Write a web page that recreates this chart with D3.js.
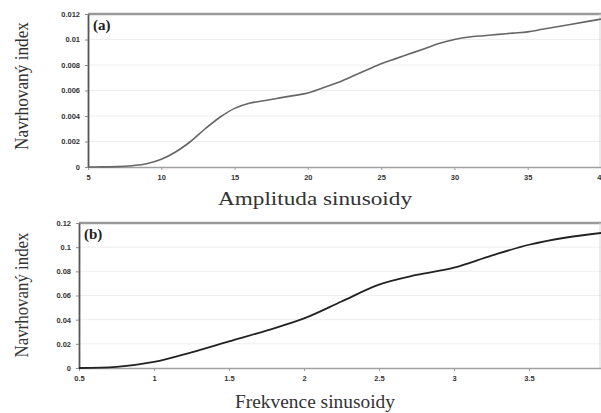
<!DOCTYPE html>
<html>
<head>
<meta charset="utf-8">
<script src="https://cdn.jsdelivr.net/npm/d3@7"></script>
<style>
  body { margin: 0; background: #fff; }
  svg { display: block; }
</style>
</head>
<body>
<svg id="chart" width="601" height="413"></svg>
<script>
// panel (a): index vs. amplitude
const ampX = [5, 6, 7, 8, 9, 10, 11, 12, 13, 14, 15, 16, 17, 18, 19, 20, 21, 22, 23, 24, 25, 26, 27, 28, 29, 30, 31, 32, 33, 34, 35, 36, 37, 38, 39, 40];
const ampY = [0, 0.00001, 0.00003, 0.0001, 0.00025, 0.0006, 0.0012, 0.002, 0.003, 0.0039, 0.0046, 0.005, 0.0052, 0.0054, 0.0056, 0.0058, 0.0062, 0.0066, 0.0071, 0.0076, 0.0081, 0.0085, 0.0089, 0.0093, 0.0097, 0.01, 0.0102, 0.0103, 0.0104, 0.0105, 0.0106, 0.0108, 0.011, 0.0112, 0.0114, 0.0116];
const ampTicksX = [5, 10, 15, 20, 25, 30, 35, 40];
const ampTicksY = [0, 0.002, 0.004, 0.006, 0.008, 0.01, 0.012];

// panel (b): index vs. frequency
const freqX = [0.5, 0.75, 1, 1.25, 1.5, 1.75, 2, 2.25, 2.5, 2.75, 3, 3.25, 3.5, 3.75, 4];
const freqY = [0, 0.001, 0.005, 0.013, 0.022, 0.031, 0.041, 0.055, 0.069, 0.077, 0.083, 0.093, 0.102, 0.108, 0.112];
const freqTicksX = [0.5, 1, 1.5, 2, 2.5, 3, 3.5];
const freqTicksY = [0, 0.02, 0.04, 0.06, 0.08, 0.1, 0.12];

const svg = d3.select("#chart");

function panel(opts) {
  const x = d3.scaleLinear().domain(opts.xDomain).range(opts.xRange);
  const y = d3.scaleLinear().domain(opts.yDomain).range(opts.yRange);
  const g = svg.append("g");
  const [x0, x1] = opts.xRange;
  const [yb, yt] = opts.yRange;

  // faint gridlines
  g.append("g").selectAll("line")
    .data(opts.yTicks.slice(1, -1))
    .join("line")
    .attr("x1", x0).attr("x2", x1)
    .attr("y1", d => y(d)).attr("y2", d => y(d))
    .attr("stroke", "#eeeeee").attr("stroke-width", 1);

  // frame
  g.append("line").attr("x1", x0).attr("x2", 601).attr("y1", yt).attr("y2", yt)
    .attr("stroke", "#9a9a9a").attr("stroke-width", 2.5);
  g.append("line").attr("x1", opts.rightEdge).attr("x2", opts.rightEdge).attr("y1", yt).attr("y2", yb)
    .attr("stroke", "#d8d8d8").attr("stroke-width", 1);

  // x axis
  const xAxis = d3.axisBottom(x).tickValues(opts.xTicks).tickSize(3).tickSizeOuter(0)
    .tickFormat(d3.format("~g"));
  const gx = g.append("g").attr("transform", `translate(0,${yb})`).call(xAxis);
  gx.select(".domain").attr("stroke", "#a0a0a0").attr("stroke-width", 1.5);
  gx.selectAll(".tick line").attr("stroke", "#a0a0a0");
  gx.selectAll("text").attr("dy", opts.xTickDy).attr("fill", "#333")
    .style("font", "bold 7.5px 'Liberation Sans', sans-serif");

  // y axis
  const yAxis = d3.axisLeft(y).tickValues(opts.yTicks).tickSize(3).tickSizeOuter(0)
    .tickFormat(d3.format("~g"));
  const gy = g.append("g").attr("transform", `translate(${x0},0)`).call(yAxis);
  gy.select(".domain").attr("stroke", "#555").attr("stroke-width", 1.8);
  gy.selectAll(".tick line").attr("stroke", "#888");
  gy.selectAll("text").attr("x", -8).attr("fill", "#333")
    .style("font", "bold 7.5px 'Liberation Sans', sans-serif");

  // curve
  const line = d3.line().x((d, i) => x(opts.xs[i])).y(d => y(d)).curve(d3.curveMonotoneX);
  g.append("path").datum(opts.ys)
    .attr("d", line)
    .attr("fill", "none")
    .attr("stroke", opts.lineColor)
    .attr("stroke-width", opts.lineWidth);

  // panel letter
  g.append("text").attr("x", x0 + 5).attr("y", yt + 16)
    .attr("fill", "#222")
    .style("font", "bold 15px 'Liberation Serif', serif")
    .text(opts.letter);

  // axis titles
  g.append("text").attr("x", opts.xTitleX).attr("y", opts.xTitleY)
    .attr("text-anchor", "middle").attr("fill", "#333")
    .attr("textLength", opts.xTitleLen).attr("lengthAdjust", "spacingAndGlyphs")
    .style("font", "18px 'Liberation Serif', serif")
    .text(opts.xTitle);
  g.append("text")
    .attr("transform", `translate(${opts.yTitleX},${opts.yTitleY}) rotate(-90)`)
    .attr("text-anchor", "middle").attr("fill", "#333")
    .attr("textLength", opts.yTitleLen).attr("lengthAdjust", "spacingAndGlyphs")
    .style("font", "19px 'Liberation Serif', serif")
    .text("Navrhovaný index");
}

panel({
  xs: ampX, ys: ampY,
  xDomain: [5, 40], xRange: [88, 601],
  yDomain: [0, 0.012], yRange: [167, 14],
  xTicks: ampTicksX, yTicks: ampTicksY,
  rightEdge: 600, xTickDy: "0.9em",
  lineColor: "#666", lineWidth: 1.6,
  letter: "(a)",
  xTitle: "Amplituda sinusoidy", xTitleX: 315, xTitleY: 205, xTitleLen: 194,
  yTitleX: 28, yTitleY: 86, yTitleLen: 128
});

panel({
  xs: freqX, ys: freqY,
  xDomain: [0.5, 4], xRange: [79, 604],
  yDomain: [0, 0.12], yRange: [368, 223],
  xTicks: freqTicksX, yTicks: freqTicksY,
  rightEdge: 600, xTickDy: "0.9em",
  lineColor: "#222", lineWidth: 1.8,
  letter: "(b)",
  xTitle: "Frekvence sinusoidy", xTitleX: 315, xTitleY: 408, xTitleLen: 160,
  yTitleX: 28, yTitleY: 295, yTitleLen: 125
});
</script>
</body>
</html>
